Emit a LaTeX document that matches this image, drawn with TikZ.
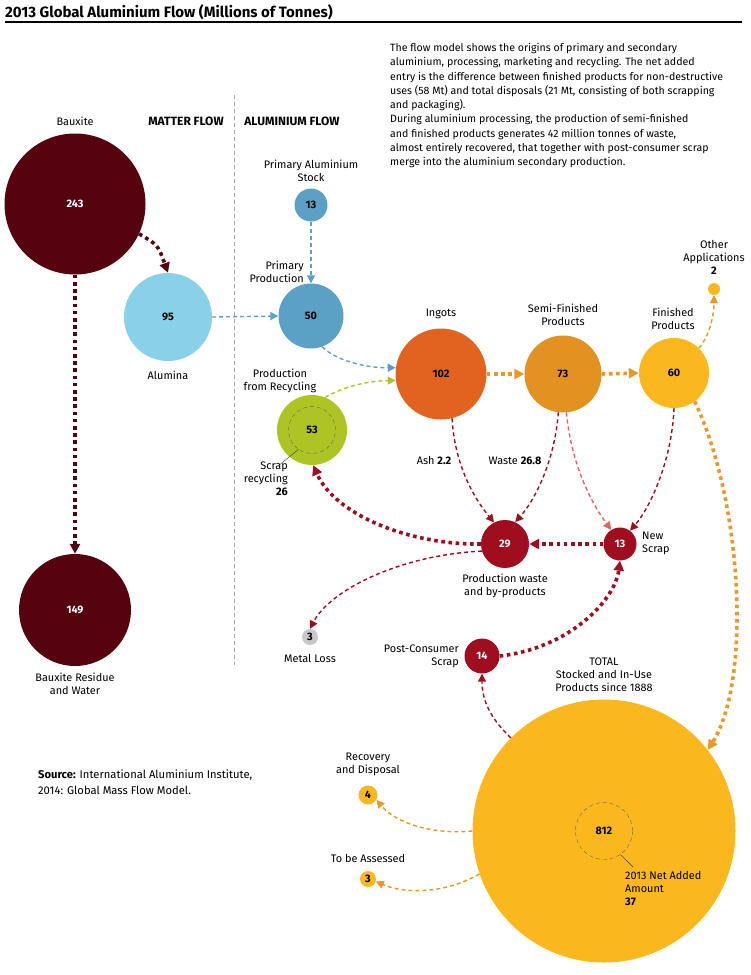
\documentclass[tikz,border=0pt]{standalone}
\usepackage{fontspec}
\setmainfont{Fira Sans}
\usetikzlibrary{arrows.meta}
\definecolor{bauxred}{RGB}{85,4,15}
\definecolor{alublue}{RGB}{137,208,232}
\definecolor{primblue}{RGB}{91,160,197}
\definecolor{recgreen}{RGB}{173,196,36}
\definecolor{ingorange}{RGB}{226,99,32}
\definecolor{semiorange}{RGB}{226,146,32}
\definecolor{finyellow}{RGB}{251,184,30}
\definecolor{wastered}{RGB}{160,13,30}
\definecolor{salmon}{RGB}{236,96,96}
\definecolor{arrorange}{RGB}{236,150,40}
\definecolor{lossgray}{RGB}{200,200,200}

\begin{document}
\begin{tikzpicture}[x=1pt,y=-1pt,
    ball/.style={circle,inner sep=0pt,font=\bfseries\fontsize{10.8}{12}\selectfont},
    lab/.style={font=\fontsize{10.9}{13}\selectfont,align=center,inner sep=0pt},
    fineflow/.style={line width=1.4pt,dash pattern=on 4pt off 3pt,-{Triangle[length=8pt,width=8pt]}},
    heavyflow/.style={line width=3.6pt,dash pattern=on 3.6pt off 3.6pt,-{Triangle[length=10pt,width=10pt]}}]
    \useasboundingbox (0,0) rectangle (750,975);

    \node[anchor=west,inner sep=0pt,font=\bfseries\fontsize{15}{17}\selectfont] (title) at (5,12) {2013 Global Aluminium Flow (Millions of Tonnes)};
    \draw[line width=1.5pt] (5,22) -- (742,22);
    \node[anchor=north west,inner sep=0pt,align=left,font=\fontsize{10.6}{14.3}\selectfont] (intro) at (390,43) {The flow model shows the origins of primary and secondary\\
        aluminium, processing, marketing and recycling. The net added\\
        entry is the difference between finished products for non-destructive\\
        uses (58 Mt) and total disposals (21 Mt, consisting of both scrapping\\
        and packaging).\\
        During aluminium processing, the production of semi-finished\\
        and finished products generates 42 million tonnes of waste,\\
        almost entirely recovered, that together with post-consumer scrap\\
        merge into the aluminium secondary production.};

    \draw[gray!70,line width=1pt,dash pattern=on 4pt off 3pt] (234,95) -- (234,665);
    \node[lab,font=\bfseries\fontsize{12}{13}\selectfont] (matter) at (186,121) {MATTER FLOW};
    \node[lab,font=\bfseries\fontsize{12}{13}\selectfont] (alflow) at (292,121) {ALUMINIUM FLOW};

    \node[ball,fill=bauxred,text=white,minimum size=141pt] (bx) at (75,204) {243};
    \node[ball,fill=alublue,minimum size=88pt] (al) at (168,317) {95};
    \node[ball,fill=bauxred,text=white,minimum size=112pt] (res) at (75,610) {149};
    \node[ball,fill=primblue,minimum size=33pt] (pas) at (311,205) {13};
    \node[ball,fill=primblue,minimum size=65pt] (pp) at (311,316) {50};
    \node[ball,fill=recgreen,minimum size=70pt] (rec) at (312,430) {53};
    \node[ball,fill=ingorange,minimum size=91pt] (ing) at (441,374) {102};
    \node[ball,fill=semiorange,minimum size=77pt] (semi) at (563,374) {73};
    \node[ball,fill=finyellow,minimum size=70pt] (fin) at (674,373) {60};
    \node[ball,fill=finyellow,minimum size=12pt] (oth) at (714,289) {};
    \node[ball,fill=wastered,text=white,minimum size=48pt] (pw) at (505,544) {29};
    \node[ball,fill=wastered,text=white,minimum size=33pt] (ns) at (620,544) {13};
    \node[ball,fill=lossgray,minimum size=16pt] (ml) at (310,637) {3};
    \node[ball,fill=wastered,text=white,minimum size=35pt] (pcs) at (482,656) {14};
    \node[ball,fill=finyellow,minimum size=263pt] (tot) at (604,831) {};
    \node[ball,fill=finyellow,minimum size=19pt] (rd) at (368,795) {4};
    \node[ball,fill=finyellow,minimum size=16pt] (tba) at (368,879) {3};
    \node[ball,draw=black!60,dash pattern=on 4pt off 3pt,minimum size=47pt] (recin) at (rec) {};
    \node[ball,draw=black!60,dash pattern=on 4pt off 3pt,minimum size=57pt] (totin) at (tot) {812};

    \node[lab] (bxlab) at (75,121) {Bauxite};
    \node[lab] (allab) at (168,375) {Alumina};
    \node[lab] (reslab) at (75,684) {Bauxite Residue\\and Water};
    \node[lab] (paslab) at (311,171) {Primary Aluminium\\Stock};
    \node[lab,align=right,anchor=east] (pplab) at (304,272) {Primary\\Production};
    \node[lab] (reclab) at (280,381) {Production\\from Recycling};
    \node[lab,align=right,anchor=north east] (scraplab) at (288,462) {Scrap\\recycling\\\textbf{26}};
    \node[lab] (inglab) at (441,314) {Ingots};
    \node[lab] (semilab) at (563,315) {Semi-Finished\\Products};
    \node[lab] (finlab) at (673,319) {Finished\\Products};
    \node[lab] (othlab) at (714,257) {Other\\Applications\\\textbf{2}};
    \node[lab] (ashlab) at (434,461) {Ash \textbf{2.2}};
    \node[lab] (wastelab) at (515,461) {Waste \textbf{26.8}};
    \node[lab] (pwlab) at (505,586) {Production waste\\and by-products};
    \node[lab,align=left,anchor=west] (nslab) at (642,543) {New\\Scrap};
    \node[lab] (mllab) at (310,658) {Metal Loss};
    \node[lab,align=right,anchor=east] (pcslab) at (459,656) {Post-Consumer\\Scrap};
    \node[lab] (totlab) at (604,675) {TOTAL\\Stocked and In-Use\\Products since 1888};
    \node[lab,align=left,anchor=north west] (netlab) at (625,871) {2013 Net Added\\Amount\\\textbf{37}};
    \node[lab] (rdlab) at (368,764) {Recovery\\and Disposal};
    \node[lab] (tbalab) at (368,858) {To be Assessed};
    \node[lab,align=left,anchor=north west,font=\fontsize{11.2}{16}\selectfont] (source) at (38,770) {\textbf{Source:} International Aluminium Institute,\\2014: Global Mass Flow Model.};

    \draw[heavyflow,bauxred] (bx.-25) .. controls (158,245) .. (al.north);
    \draw[heavyflow,bauxred] (bx.south) -- (res.north);
    \draw[fineflow,primblue] (al.east) -- (pp.west);
    \draw[fineflow,primblue] (pas.south) -- (pp.north);
    \draw[fineflow,primblue] (pp.-70) .. controls (335,360) and (365,368) .. (ing.172);
    \draw[fineflow,recgreen] (rec.68) .. controls (345,386) and (368,381) .. (ing.188);
    \draw[heavyflow,arrorange] (ing.east) -- (semi.west);
    \draw[heavyflow,arrorange] (semi.east) -- (fin.west);
    \draw[fineflow,arrorange] (fin.45) .. controls (710,335) and (714,315) .. (oth.south);
    \draw[fineflow,wastered] (ing.-76) .. controls (455,470) and (478,503) .. (pw.117);
    \draw[fineflow,wastered] (semi.-97) .. controls (555,460) and (535,500) .. (pw.65);
    \draw[fineflow,salmon] (semi.-85) .. controls (572,470) and (595,508) .. (ns.122);
    \draw[fineflow,wastered] (fin.-90) .. controls (672,460) and (650,508) .. (ns.53);
    \draw[heavyflow,wastered] (ns.west) -- (pw.east);
    \draw[heavyflow,wastered] (pw.west) .. controls (410,545) and (335,515) .. (rec.-88);
    \draw[fineflow,wastered] (pw.197) .. controls (400,555) and (330,590) .. (ml.north);
    \draw[heavyflow,wastered] (pcs.east) .. controls (570,648) and (615,600) .. (ns.south);
    \draw[fineflow,wastered] (tot.135) .. controls (490,718) and (482,700) .. (pcs.south);
    \draw[heavyflow,arrorange] (fin.-54) .. controls (742,500) and (752,680) .. (tot.38);
    \draw[fineflow,arrorange] (tot.180) .. controls (430,835) and (395,822) .. (rd.-30);
    \draw[fineflow,arrorange] (tot.199) .. controls (445,894) and (405,894) .. (tba.-18);

    \draw[black!80] (recin.235) -- (278,466);
    \draw[black!80] (totin.-55) -- (633,867);
\end{tikzpicture}
\end{document}
